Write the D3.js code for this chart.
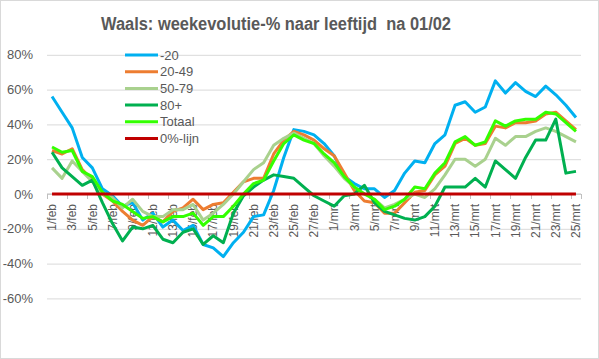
<!DOCTYPE html>
<html>
<head>
<meta charset="utf-8">
<script src="https://cdn.jsdelivr.net/npm/d3@7"></script>
<style>
  html, body { margin: 0; padding: 0; background: #fff; }
  svg { display: block; }
  text { font-family: "Liberation Sans", Arial, sans-serif; fill: #595959; }
</style>
</head>
<body>
<svg id="chart" width="599" height="359"></svg>
<script>
const categories = [
  "1/feb","2/feb","3/feb","4/feb","5/feb","6/feb","7/feb","8/feb","9/feb","10/feb",
  "11/feb","12/feb","13/feb","14/feb","15/feb","16/feb","17/feb","18/feb","19/feb","20/feb",
  "21/feb","22/feb","23/feb","24/feb","25/feb","26/feb","27/feb","28/feb",
  "1/mrt","2/mrt","3/mrt","4/mrt","5/mrt","6/mrt","7/mrt","8/mrt","9/mrt","10/mrt",
  "11/mrt","12/mrt","13/mrt","14/mrt","15/mrt","16/mrt","17/mrt","18/mrt","19/mrt","20/mrt",
  "21/mrt","22/mrt","23/mrt","24/mrt","25/mrt"
];

const s_min20 = [56,47,38,21,15,3,-1,-7,-5,-15,-11,-19,-15,-21,-18,-29,-31,-36,-28,-22,-13,-12,2,21,37,36,34,29,
                 22,10,6,3,3,-2,2,12,19,18,29,34,51,53,47,50,65,58,64,59,56,62,57,51,44];
const s_20_49 = [25,23,26,14,8,0,-4,-10,-15,-18,-13,-16,-10,-8,-3,-9,-6,-5,1,7,9,9,23,31,36,34,31,26,
                 22,12,2,-4,-5,-11,-11,-5,1,2,11,16,29,32,28,29,39,38,41,41,42,46,47,42,37];
const s_50_79 = [15,9,19,13,7,0,-2,-8,-3,-10,-13,-13,-9,-9,-6,-15,-11,-6,0,7,14,18,28,32,35,32,29,22,
                 16,9,4,0,-3,-8,-6,-3,0,-2,3,11,20,20,16,20,32,28,33,33,36,38,36,33,30];
const s_80plus = [24,15,10,5,8,-5,-17,-27,-19,-20,-18,-26,-28,-22,-20,-29,-24,-28,-11,-1,4,8,11,10,9,4,-1,-4,
                  -7,-1,0,5,-5,-10,-12,-14,-15,-13,-7,4,4,4,9,4,19,14,9,21,31,31,43,12,13];
const s_totaal = [27,24,25,13,10,1,-4,-6,-10,-14,-13,-16,-13,-13,-11,-18,-13,-13,-7,0,6,8,19,29,34,31,29,23,
                  18,10,4,0,-3,-9,-7,-3,4,3,12,18,30,33,28,30,42,39,42,43,43,47,46,41,36];
const s_zero = [0,0,0,0,0,0,0,0,0,0,0,0,0,0,0,0,0,0,0,0,0,0,0,0,0,0,0,0,
                0,0,0,0,0,0,0,0,0,0,0,0,0,0,0,0,0,0,0,0,0,0,0,0,0];

const seriesNames = ["-20","20-49","50-79","80+","Totaal","0%-lijn"];
const seriesValues = [s_min20, s_20_49, s_50_79, s_80plus, s_totaal, s_zero];
const seriesColors = ["#00B0F0","#ED7D31","#A9D18E","#00B050","#33FF00","#C00000"];
const yTicks = [-60,-40,-20,0,20,40,60,80];
const titleText = "Waals: weekevolutie-% naar leeftijd  na 01/02";

const svg = d3.select("#chart");
const W = 599, H = 359;

svg.append("rect").attr("x",0.5).attr("y",0.5).attr("width",W-1).attr("height",H-1)
  .attr("fill","#fff").attr("stroke","#D9D9D9");

const x = d3.scaleBand().domain(categories).range([47, 581]).padding(0);
const y = d3.scaleLinear().domain([-60, 80]).range([298.4, 54.8]);
const cx = d => x(d) + x.bandwidth() / 2;

// gridlines + y labels
const yAxis = d3.axisLeft(y).tickValues(yTicks).tickFormat(d => d + "%")
  .tickSizeInner(-(581 - 47)).tickSizeOuter(0).tickPadding(14);
const gy = svg.append("g").attr("transform", "translate(47,0)").call(yAxis);
gy.select(".domain").remove();
gy.selectAll(".tick line").attr("stroke", "#D9D9D9").attr("stroke-width", 1);
gy.selectAll(".tick text").attr("fill", "#595959").style("font-size", "13px")
  .style("font-family", "'Liberation Sans', Arial, sans-serif");

// x axis line at 0
const y0 = y(0);
svg.append("line").attr("x1", 47).attr("x2", 581).attr("y1", y0).attr("y2", y0)
  .attr("stroke", "#BFBFBF").attr("stroke-width", 1);
const tickIdx = categories.map((c, i) => i).filter(i => i % 2 === 0);
svg.append("g").selectAll("line").data(tickIdx).join("line")
  .attr("x1", i => Math.round(x(categories[i])) + 0.5)
  .attr("x2", i => Math.round(x(categories[i])) + 0.5)
  .attr("y1", y0).attr("y2", y0 + 5)
  .attr("stroke", "#BFBFBF");
svg.append("line")
  .attr("x1", Math.round(x.range()[1]) + 0.5).attr("x2", Math.round(x.range()[1]) + 0.5)
  .attr("y1", y0).attr("y2", y0 + 5).attr("stroke", "#BFBFBF");

// x labels
svg.append("g").selectAll("text").data(tickIdx).join("text")
  .attr("transform", i => `translate(${cx(categories[i])},${y0 + 10}) rotate(-90)`)
  .attr("text-anchor", "end").attr("dy", "0.35em")
  .style("font-size", "12px")
  .text(i => categories[i]);

// lines
const line = d3.line().x((d, i) => cx(categories[i])).y(d => y(d));
seriesValues.forEach((vals, k) => {
  svg.append("path").datum(vals)
    .attr("fill", "none")
    .attr("stroke", seriesColors[k])
    .attr("stroke-width", 3)
    .attr("stroke-linejoin", "round")
    .attr("d", line);
});

// legend
const lg = svg.append("g");
seriesNames.forEach((name, k) => {
  const ly = 55 + k * 16.7;
  lg.append("line").attr("x1", 125).attr("x2", 158).attr("y1", ly).attr("y2", ly)
    .attr("stroke", seriesColors[k]).attr("stroke-width", 3);
  lg.append("text").attr("x", 160).attr("y", ly).attr("dy", "0.35em")
    .style("font-size", "13px").text(name);
});

// title
svg.append("text").attr("x", 276).attr("y", 30).attr("text-anchor", "middle")
  .style("font-size", "18px").style("font-weight", "bold")
  .style("white-space", "pre")
  .attr("textLength", 350).attr("lengthAdjust", "spacingAndGlyphs")
  .text(titleText);
</script>
</body>
</html>
